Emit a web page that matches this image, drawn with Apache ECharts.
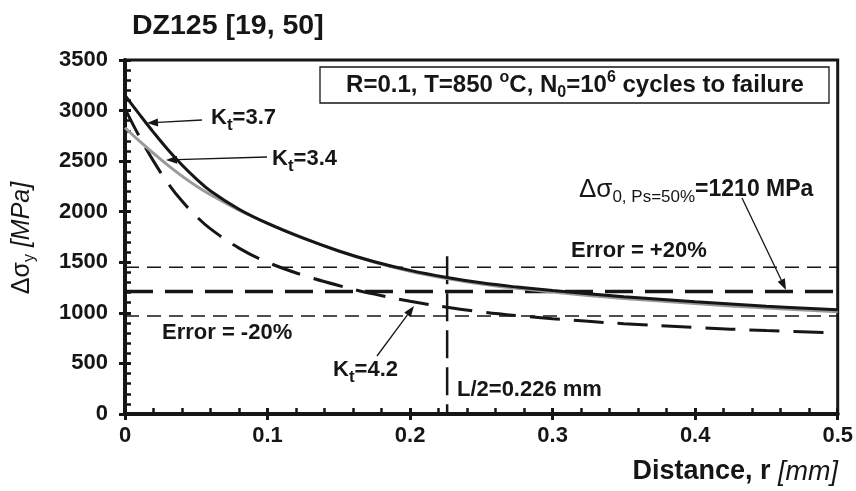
<!DOCTYPE html>
<html><head><meta charset="utf-8">
<script src="https://cdn.jsdelivr.net/npm/echarts@6/dist/echarts.min.js"></script>
<style>html,body{margin:0;padding:0;background:#fff}#c{width:856px;height:491px}</style>
</head><body><div id="c"></div>
<script>
// ---- data ----
const distance = [0,0.01,0.02,0.03,0.04,0.05,0.06,0.08,0.1,0.125,0.15,0.175,0.2,0.226,0.25,0.275,0.3,0.35,0.4,0.45,0.5];
const kt37 = [3150,2965,2785,2615,2462,2325,2205,2025,1884,1738,1612,1505,1420,1350,1297,1255,1220,1160,1110,1066,1030];
const kt34 = [2830,2700,2578,2460,2352,2255,2168,2015,1888,1742,1610,1500,1412,1340,1285,1242,1205,1143,1092,1048,1012];
const kt42 = [3020,2745,2500,2285,2105,1955,1830,1640,1500,1372,1270,1185,1115,1055,1010,973,942,893,855,825,800];
const refSpan = [0, 0.5];
const sigma0 = 1210;
const errPlus = 1452;
const errMinus = 968;
const halfL = 0.226;
const halfLTop = 1560;
const xTicks = [0, 0.1, 0.2, 0.3, 0.4, 0.5];
const yTicks = [0, 500, 1000, 1500, 2000, 2500, 3000, 3500];

const pair = (xs, ys) => xs.map((x, i) => [x, ys[i]]);
const FF = '"Liberation Sans", Arial, sans-serif';
const INK = '#161616';

const chart = echarts.init(document.getElementById('c'), null, {renderer: 'canvas'});

const baseX = {type: 'value', min: xTicks[0], max: xTicks[xTicks.length - 1], interval: 0.1, position: 'bottom'};
const baseY = {type: 'value', min: yTicks[0], max: yTicks[yTicks.length - 1], interval: 500, position: 'left'};

const hLine = (v, w, dash) => ({
  type: 'line', xAxisIndex: 0, yAxisIndex: 0, data: refSpan.map(x => [x, v]),
  symbol: 'none', silent: true, z: 1,
  lineStyle: {color: INK, width: w, type: dash}
});

chart.setOption({
  animation: false,
  backgroundColor: '#fff',
  grid: {left: 125, right: 17, top: 60, bottom: 77, show: true, borderColor: INK, borderWidth: 3, containLabel: false},
  xAxis: [
    Object.assign({}, baseX, {
      axisLine: {show: true, lineStyle: {color: INK, width: 4}},
      axisTick: {show: true, inside: false, length: 6, lineStyle: {color: INK, width: 3}},
      axisLabel: {show: true, margin: 11, color: INK, fontFamily: FF, fontWeight: 'bold', fontSize: 22,
        formatter: v => v === 0 ? '0' : v.toFixed(1)},
      splitLine: {show: false}
    }),
    Object.assign({}, baseX, {
      axisLine: {show: false},
      axisTick: {show: true, inside: true, length: 6, lineStyle: {color: INK, width: 3}},
      minorTick: {show: true, splitNumber: 5, length: 6, lineStyle: {color: INK, width: 2.5}},
      axisLabel: {show: false}, splitLine: {show: false}
    })
  ],
  yAxis: [
    Object.assign({}, baseY, {
      axisLine: {show: true, lineStyle: {color: INK, width: 4}},
      axisTick: {show: true, inside: false, length: 6, lineStyle: {color: INK, width: 3}},
      axisLabel: {show: true, margin: 17, color: INK, fontFamily: FF, fontWeight: 'bold', fontSize: 22,
        formatter: v => String(v)},
      splitLine: {show: false}
    }),
    Object.assign({}, baseY, {
      axisLine: {show: false},
      axisTick: {show: true, inside: true, length: 6, lineStyle: {color: INK, width: 3}},
      minorTick: {show: true, splitNumber: 5, length: 6, lineStyle: {color: INK, width: 2.5}},
      axisLabel: {show: false}, splitLine: {show: false}
    })
  ],
  series: [
    hLine(errPlus, 1.5, [14, 8]),
    hLine(errMinus, 1.5, [14, 8]),
    hLine(sigma0, 3.5, [28, 12]),
    {type: 'line', name: 'L/2', data: [[halfL, halfLTop], [halfL, 0]], symbol: 'none', silent: true, z: 2,
     lineStyle: {color: INK, width: 2.5, type: [28, 9]}},
    {type: 'line', name: 'Kt=4.2', data: pair(distance, kt42), symbol: 'none', smooth: 0.4, z: 3,
     lineStyle: {color: INK, width: 3, type: [30, 14]}},
    {type: 'line', name: 'Kt=3.4', data: pair(distance, kt34), symbol: 'none', smooth: 0.4, z: 3,
     lineStyle: {color: '#9a9a9a', width: 3}},
    {type: 'line', name: 'Kt=3.7', data: pair(distance, kt37), symbol: 'none', smooth: 0.4, z: 4,
     lineStyle: {color: INK, width: 3}}
  ]
});

// ---- annotations ----
function rich(size, subSize, bold) {
  const w = bold ? 'bold' : 'normal';
  const lh = size + 4;
  const shift = Math.round(size * 0.62);
  return {
    b: {fontFamily: FF, fontWeight: w, fontSize: size, color: INK, lineHeight: lh},
    r: {fontFamily: FF, fontWeight: 'normal', fontSize: size, color: INK, lineHeight: lh},
    i: {fontFamily: FF, fontWeight: 'normal', fontStyle: 'italic', fontSize: size, color: INK, lineHeight: lh},
    s: {fontFamily: FF, fontWeight: w, fontSize: subSize, color: INK, lineHeight: subSize + 2, padding: [shift, 0, 0, 0]},
    rs: {fontFamily: FF, fontWeight: 'normal', fontSize: subSize, color: INK, lineHeight: subSize + 2, padding: [shift, 0, 0, 0]},
    p: {fontFamily: FF, fontWeight: w, fontSize: subSize, color: INK, lineHeight: subSize + 2, padding: [0, 0, shift, 0]}
  };
}
function label(x, y, text, richStyles, align, extra) {
  return Object.assign({
    type: 'text', x: x, y: y, z: 50, silent: true,
    style: {text: text, rich: richStyles, align: align || 'left', verticalAlign: 'middle', fill: INK}
  }, extra || {});
}
function arrow(x1, y1, x2, y2) {
  const ang = Math.atan2(y2 - y1, x2 - x1);
  const L = 11, W = 4;
  const bx = x2 - L * Math.cos(ang), by = y2 - L * Math.sin(ang);
  const px = -Math.sin(ang) * W, py = Math.cos(ang) * W;
  return {
    type: 'group', z: 50, silent: true, children: [
      {type: 'line', shape: {x1: x1, y1: y1, x2: bx, y2: by}, style: {stroke: INK, lineWidth: 1.3}},
      {type: 'polygon', shape: {points: [[x2, y2], [bx + px, by + py], [bx - px, by - py]]}, style: {fill: INK}}
    ]
  };
}

const R22 = rich(22, 17, true);
const graphics = [
  label(132, 26, '{b|DZ125 [19, 50]}', rich(28.5, 18, true)),
  {type: 'rect', z: 40, silent: true, shape: {x: 320, y: 67, width: 509, height: 36},
   style: {fill: '#fff', stroke: INK, lineWidth: 1.3}},
  label(575, 85, '{b|R=0.1, T=850 }{p|o}{b|C, N}{s|0}{b|=10}{p|6}{b| cycles to failure}', rich(24, 16, true), 'center'),
  label(211, 118, '{b|K}{s|t}{b|=3.7}', R22),
  arrow(202, 120, 147, 123),
  label(272, 159, '{b|K}{s|t}{b|=3.4}', R22),
  arrow(267, 157, 166, 160),
  label(333, 370, '{b|K}{s|t}{b|=4.2}', R22),
  arrow(377, 356, 414, 306),
  label(457, 390, '{b|L/2=0.226 mm}', R22),
  label(162, 333, '{b|Error = -20%}', R22),
  label(571, 251, '{b|Error = +20%}', R22),
  label(579, 190, '{r|Δσ}{rs|0, Ps=50%}{b|=1210 MPa}', Object.assign({}, rich(23, 17, true), {
    r: {fontFamily: FF, fontSize: 26, color: INK, lineHeight: 28}
  })),
  arrow(742, 198, 786, 290),
  label(838, 472, '{b|Distance, r }{i|[mm]}', rich(27, 16, true), 'right'),
  label(22, 238, '{r|Δσ}{rs|y}{i| [MPa]}', rich(25, 16, false), 'center', {rotation: Math.PI / 2})
];
chart.setOption({graphic: graphics});
</script>
</body></html>
